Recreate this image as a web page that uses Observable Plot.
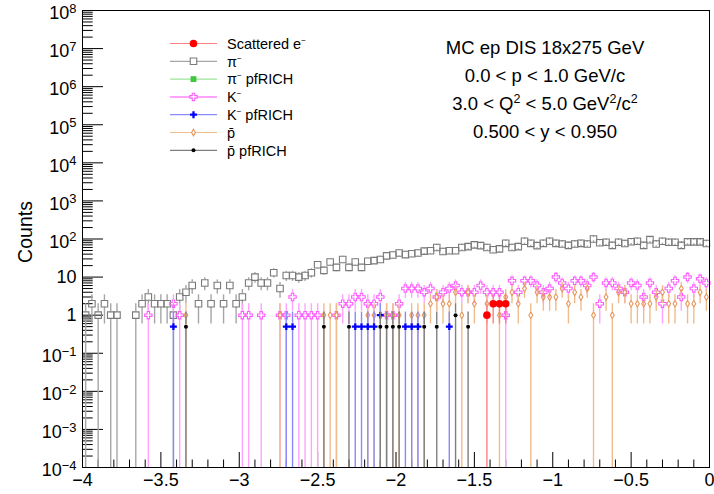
<!DOCTYPE html>
<html>
<head>
<meta charset="utf-8">
<script src="https://cdn.jsdelivr.net/npm/d3@7"></script>
<script src="https://cdn.jsdelivr.net/npm/@observablehq/plot@0.6"></script>
<style>
  html, body { margin: 0; padding: 0; background: #fff; }
  #chart { width: 714px; height: 494px; }
</style>
</head>
<body>
<div id="chart"></div>
<script>
// ---------------- data ----------------
const xLow = -4;          // histogram lower edge
const binWidth = 0.04;    // 100 bins from -4 to 0

// pi- counts, bins 0..99
const piMinus = [1,2,1,2,1,1,0,0,1,2,3,2,2,2,1,3,4,6,2,7,2,6,2,6,2,
  3,7,10,7,7,13,5,11,11,10,11,13,21,15,25,18,29,18,25,18,26,27,29,36,38,
  43,39,41,43,48,49,60,47,49,49,60,63,70,67,60,52,55,77,60,63,87,77,67,77,87,
  77,74,68,74,77,74,100,80,82,68,82,76,85,87,68,96,74,87,82,82,68,84,84,84,76];

// K- counts, bins 0..99
const kMinus = [0,0,0,0,0,0,0,0,0,0,1,0,0,0,2,1,0,0,0,0,0,0,0,0,0,
  1,1,0,1,0,0,1,1,3,1,1,1,1,0,0,1,2,2,3,3,2,2,3,1,1,
  2,5,5,5,4,5,3,4,5,6,4,4,4,6,4,4,4,1,8,4,8,8,6,4,5,
  10,7,5,8,8,6,10,2,7,7,5,4,7,6,3,7,4,2,5,8,3,10,5,9,7];

// anti-proton counts, bins 0..99
const pBar = [0,0,0,0,0,0,0,0,0,0,0,0,0,0,0,0,1,0,0,0,0,0,0,0,0,
  0,0,0,0,0,0,1,0,0,0,0,0,0,1,1,1,0,0,0,0,1,1,0,1,1,
  1,0,1,1,1,2,3,2,2,4,1,4,2,0,2,0,1,3,4,2,5,1,4,3,3,
  3,5,2,4,3,5,1,0,3,1,4,4,2,2,2,2,3,4,2,2,5,2,2,4,3];

// sparse series: bin indices and contents
const electronBins = [64,65,66,67];
const electronCounts = [1,2,2,2];
const piMinusPfBins = [];
const piMinusPfCounts = [];
const kMinusPfBins = [14,32,33,43,44,45,46,47,51,52,53,58];
const kMinusPfCounts = [0.5,0.5,0.5,0.5,0.5,0.5,0.5,1,0.5,0.5,0.5,0.5];
const pBarPfBins = [16,38,42,47,48,49,50,54,56,59,61];
const pBarPfCounts = [0.5,0.5,0.5,0.5,0.5,0.5,0.5,0.5,0.5,1,0.5];

// axis ticks
const xMajorTicks = [-4,-3.5,-3,-2.5,-2,-1.5,-1,-0.5,0];
const yDecades = [1e-4,1e-3,1e-2,1e-1,1,10,1e2,1e3,1e4,1e5,1e6,1e7,1e8];

// text
const yTitle = "Counts";
const infoLines = ["MC ep DIS 18x275 GeV", "0.0 < p < 1.0 GeV/c", "3.0 < Q^2 < 5.0 GeV^2/c^2", "0.500 < y < 0.950"];

// ---------------- helpers ----------------
const FONT = '"Liberation Sans", Arial, Helvetica, sans-serif';
const W = 714, H = 494, mL = 82, mR = 5, mT = 10, mB = 27;
const frameW = W - mL - mR, frameH = H - mT - mB;
const yMin = 1e-4;

function rowsFromSparse(bins, counts) {
  return bins.map((b, i) => {
    const v = counts[i], e = Math.sqrt(v);
    return {x: xLow + binWidth * (b + 0.5), v, lo: Math.max(v - e, yMin), hi: v + e};
  });
}
function rowsFromDense(arr) {
  const bins = [], counts = [];
  arr.forEach((v, i) => { if (v > 0) { bins.push(i); counts.push(v); } });
  return rowsFromSparse(bins, counts);
}

const series = [
  {key: "pi", label: "π", sup: "-", rows: rowsFromDense(piMinus), symbol: "square", r: 3.67, half: 3.3, mk: "#7a7a7a", ln: "#a6a6a6", filled: false},
  {key: "piPf", label: "π", sup: "-", extra: " pfRICH", rows: rowsFromSparse(piMinusPfBins, piMinusPfCounts), symbol: "square", r: 3.3, half: 3, mk: "#3fc83f", ln: "#9be59b", filled: true},
  {key: "k", label: "K", sup: "-", rows: rowsFromDense(kMinus), symbol: "cross", r: 3.1, half: 3.7, mk: "#ff5cff", ln: "#ffa3ff", filled: false},
  {key: "pbar", label: "p\u0304", rows: rowsFromDense(pBar), symbol: "diamond", r: 2.0, half: 3.3, mk: "#e8975a", ln: "#f1bc8c", filled: false},
  {key: "kPf", label: "K", sup: "-", extra: " pfRICH", rows: rowsFromSparse(kMinusPfBins, kMinusPfCounts), symbol: "cross", r: 2.9, half: 3.4, mk: "#0000ff", ln: "#8a8aff", filled: true},
  {key: "pbarPf", label: "p\u0304", extra: " pfRICH", rows: rowsFromSparse(pBarPfBins, pBarPfCounts), symbol: "circle", r: 2, half: 2, mk: "#000000", ln: "#7f7f7f", filled: true},
  {key: "e", label: "Scattered e", sup: "-", rows: rowsFromSparse(electronBins, electronCounts), symbol: "circle", r: 3.8, half: 3.8, mk: "#ff0000", ln: "#ff8080", filled: true}
];

function seriesMarks(s) {
  return [
    Plot.ruleX(s.rows, {x: "x", y1: "v", y2: "lo", insetTop: s.half, stroke: s.ln, strokeWidth: 1.4}),
    Plot.ruleX(s.rows, {x: "x", y1: "hi", y2: "v", insetBottom: s.half, stroke: s.ln, strokeWidth: 1.4}),
    Plot.dot(s.rows, {x: "x", y: "v", symbol: s.symbol, r: s.r,
      fill: s.filled ? s.mk : "none", stroke: s.filled ? "none" : s.mk, strokeWidth: 1.1})
  ];
}

const xMinorTicks = d3.range(-40, 1).map(i => i / 10).filter(t => !xMajorTicks.some(m => Math.abs(m - t) < 1e-9));
const yMinorTicks = [];
yDecades.slice(0, -1).forEach(d => { for (let k = 2; k <= 9; k++) yMinorTicks.push(d * k); });

const fmtY = d => {
  const e = Math.round(Math.log10(d));
  return e === 0 ? "1" : e === 1 ? "10" : "10^" + e;
};

const chart = Plot.plot({
  width: W, height: H,
  marginLeft: mL, marginRight: mR, marginTop: mT, marginBottom: mB,
  style: {fontFamily: FONT, fontSize: "18px", background: "#fff", color: "#000", overflow: "visible"},
  x: {type: "linear", domain: [-4, 0]},
  y: {type: "log", domain: [1e-4, 1e8]},
  marks: [
    Plot.ruleY(yMinorTicks, {y: d => d, insetRight: frameW - 10.7, stroke: "#000", strokeWidth: 1}),
    Plot.ruleY(yDecades, {y: d => d, insetRight: frameW - 21, stroke: "#000", strokeWidth: 1}),
    Plot.ruleX(xMinorTicks, {x: d => d, insetTop: frameH - 7.5, stroke: "#000", strokeWidth: 1}),
    Plot.ruleX(xMajorTicks, {x: d => d, insetTop: frameH - 15, stroke: "#000", strokeWidth: 1}),
    ...["pi", "piPf", "k", "pbar", "kPf", "pbarPf", "e"].flatMap(k => seriesMarks(series.find(s => s.key === k))),
    Plot.frame({stroke: "#000", strokeWidth: 1}),
    Plot.axisX({ticks: xMajorTicks, tickSize: 0, tickPadding: 6, tickFormat: d3.format(""), label: null, fontSize: 18}),
    Plot.axisY({ticks: yDecades, tickSize: 0, tickPadding: 6, tickFormat: fmtY, label: null, fontSize: 18})
  ]
});

document.getElementById("chart").appendChild(chart);

// superscript exponents on y tick labels (label block centred like ROOT)
d3.select(chart).selectAll('g[aria-label="y-axis tick label"] text').each(function () {
  const m = this.textContent.match(/^10\^(-?\d+)$/);
  if (!m) return;
  const sel = d3.select(this);
  sel.text(null);
  sel.append("tspan").attr("dy", 3).text("10");
  sel.append("tspan").attr("dy", "-0.5em").attr("font-size", "0.72em").text(m[1].replace("-", "\u2212"));
});

// ---------------- overlay: y title, legend, info text ----------------
const svg = d3.select(chart);
const ov = svg.append("g").attr("font-family", FONT).attr("fill", "#000").attr("text-anchor", "start");

ov.append("text").attr("transform", "translate(32,232) rotate(-90)")
  .attr("text-anchor", "middle").attr("font-size", 19.5).text(yTitle);

// legend
const legOrder = ["e", "pi", "piPf", "k", "kPf", "pbar", "pbarPf"];
const legY0 = 43.5, legDy = 17.8;
const symMap = {square: d3.symbolSquare, cross: d3.symbolCross, diamond: d3.symbolDiamond, circle: d3.symbolCircle};
legOrder.forEach((k, i) => {
  const s = series.find(t => t.key === k);
  const cy = legY0 + i * legDy;
  const g = ov.append("g");
  g.append("line").attr("x1", 170).attr("x2", 217).attr("y1", cy).attr("y2", cy)
    .attr("stroke", s.ln).attr("stroke-width", k === "k" ? 2 : 1.2);
  g.append("path").attr("transform", `translate(193.5,${cy})`)
    .attr("d", d3.symbol(symMap[s.symbol], Math.PI * s.r * s.r)())
    .attr("fill", s.filled ? s.mk : "#fff").attr("stroke", s.filled ? "none" : s.mk).attr("stroke-width", 1.1);
  const t = g.append("text").attr("x", 227).attr("y", cy + 5.2).attr("font-size", 14.5).attr("text-anchor", "start");
  t.append("tspan").text(s.label);
  if (s.sup) t.append("tspan").attr("dy", -6).attr("font-size", 8).text("\u2212");
  if (s.extra) t.append("tspan").attr("dy", s.sup ? 6 : 0).text(s.extra);
});

// info text
const infoY = [54, 82, 110, 138];
infoLines.forEach((line, i) => {
  const t = ov.append("text").attr("x", 545).attr("y", infoY[i]).attr("text-anchor", "middle").attr("font-size", 18.5);
  const parts = line.split(/(\^\d)/);
  let raised = false;
  parts.forEach(p => {
    if (!p) return;
    if (p[0] === "^") {
      t.append("tspan").attr("dy", -7).attr("font-size", 12.5).text(p.slice(1));
      raised = true;
    } else {
      t.append("tspan").attr("dy", raised ? 7 : 0).text(p);
      raised = false;
    }
  });
});
</script>
</body>
</html>
